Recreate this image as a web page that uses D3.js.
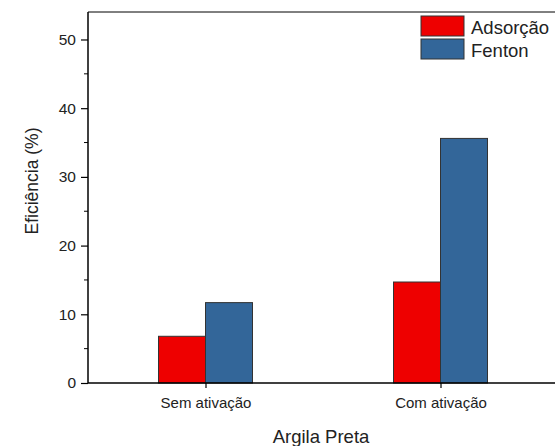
<!DOCTYPE html>
<html><head><meta charset="utf-8">
<script src="https://cdn.jsdelivr.net/npm/d3@7"></script>
<style>body{margin:0;background:#fff}svg{display:block}text{font-family:Arial,"Liberation Sans",sans-serif;fill:#222}</style>
</head><body>
<svg id="c" width="555" height="446"></svg>
<script>
const categories = ["Sem ativação", "Com ativação"];
const seriesNames = ["Adsorção", "Fenton"];
const adsorcao = [6.8, 14.7];
const fenton = [11.7, 35.6];
const yTicks = [0, 10, 20, 30, 40, 50];
const yMinorTicks = [5, 15, 25, 35, 45];
const colors = ["#ee0000", "#336699"];

const svg = d3.select("#c");
const L = 88, T = 12, R = 558, B = 383;
const x = d3.scaleLinear().domain([0.5, 2.5]).range([L, R]);
const y = d3.scaleLinear().domain([0, 54]).range([B, T]);
const bw = 0.2;
const series = [adsorcao, fenton];

// bars
series.forEach((vals, s) => {
  svg.append("g").selectAll("rect").data(vals).join("rect")
    .attr("x", (d, i) => x(i + 1 + (s === 0 ? -bw : 0)))
    .attr("width", x(1 + bw) - x(1))
    .attr("y", d => y(d))
    .attr("height", d => y(0) - y(d))
    .attr("fill", colors[s])
    .attr("stroke", "#333").attr("stroke-width", 1);
});

// frame
svg.append("line").attr("x1", L).attr("x2", R).attr("y1", T).attr("y2", T).attr("stroke", "#000").attr("stroke-width", 1);
svg.append("line").attr("x1", R).attr("x2", R).attr("y1", T).attr("y2", B).attr("stroke", "#000").attr("stroke-width", 1);

// y axis
const yAxis = svg.append("g").attr("transform", `translate(${L},0)`)
  .call(d3.axisLeft(y).tickValues(yTicks).tickSize(7).tickPadding(5).tickFormat(d3.format("d")));
yAxis.select(".domain").attr("stroke", "#000").attr("stroke-width", 1.5).attr("d", `M0,${T}V${B}`);
yAxis.selectAll(".tick line").attr("stroke", "#000").attr("stroke-width", 1.2);
yAxis.selectAll("text").style("font-size", "15.5px").attr("fill", "#222");
// minor ticks
svg.append("g").selectAll("line").data(yMinorTicks).join("line")
  .attr("x1", L - 4).attr("x2", L).attr("y1", d => y(d)).attr("y2", d => y(d))
  .attr("stroke", "#000").attr("stroke-width", 1);

// x axis
const xAxis = svg.append("g").attr("transform", `translate(0,${B})`)
  .call(d3.axisBottom(x).tickValues([1, 2]).tickSize(5).tickPadding(9).tickFormat((d) => categories[d - 1]));
xAxis.select(".domain").attr("stroke", "#000").attr("stroke-width", 1.5).attr("d", `M${L},0H${R}`);
xAxis.selectAll(".tick line").attr("stroke", "#000").attr("stroke-width", 1.2);
xAxis.selectAll("text").style("font-size", "15px").attr("fill", "#222");

// titles
svg.append("text").attr("x", 321).attr("y", 443).attr("text-anchor", "middle").style("font-size", "18.5px").text("Argila Preta");
svg.append("text").attr("transform", "translate(38,181) rotate(-90)").attr("text-anchor", "middle").style("font-size", "17.5px").text("Eficiência (%)");

// legend
seriesNames.forEach((n, i) => {
  svg.append("rect").attr("x", 421).attr("y", 16 + i * 23).attr("width", 43).attr("height", 20)
    .attr("fill", colors[i]).attr("stroke", "#333").attr("stroke-width", 1);
  svg.append("text").attr("x", 471).attr("y", 34 + i * 23.4).style("font-size", "18.5px").text(n);
});
</script>
</body></html>
